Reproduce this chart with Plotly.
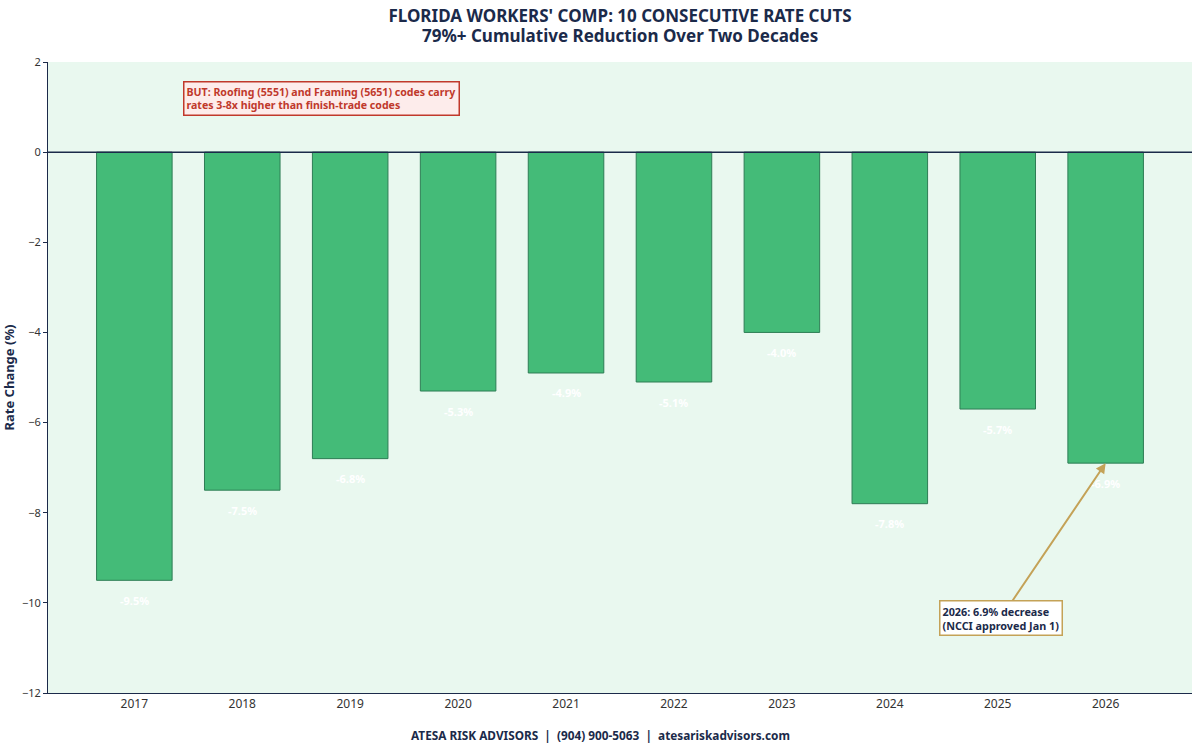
import plotly.graph_objects as go

years = [2017, 2018, 2019, 2020, 2021, 2022, 2023, 2024, 2025, 2026]
rate_change = [-9.5, -7.5, -6.8, -5.3, -4.9, -5.1, -4.0, -7.8, -5.7, -6.9]
labels = [f"{v:.1f}%" for v in rate_change]

navy = "#1b2a4a"
font_family = "Noto Sans, Open Sans, sans-serif"

fig = go.Figure()
fig.add_trace(go.Bar(
    x=years, y=rate_change, width=0.7,
    marker=dict(color="#44bb78", line=dict(color="#2e7d55", width=1)),
    hoverinfo="skip",
))

for yr, v, lab in zip(years, rate_change, labels):
    fig.add_annotation(
        x=yr, y=v, xref="x", yref="y", yshift=-20, showarrow=False,
        text=f"<b>{lab}</b>", font=dict(color="white", size=11, family=font_family),
    )

fig.add_hline(y=0, line=dict(color=navy, width=1.5))

fig.add_annotation(
    xref="paper", yref="y", x=0.118, y=1.57, xanchor="left", yanchor="top",
    text="<b>BUT: Roofing (5551) and Framing (5651) codes carry<br>rates 3-8x higher than finish-trade codes</b>",
    showarrow=False, align="left",
    font=dict(color="#c0392b", size=10.6, family=font_family),
    bgcolor="#fdeceb", bordercolor="#c0392b", borderwidth=1.5, borderpad=2,
)

fig.add_annotation(
    x=2026, y=-6.9, xref="x", yref="y",
    ax=2025.03, ay=-10.33, axref="x", ayref="y",
    text="<b>2026: 6.9% decrease<br>(NCCI approved Jan 1)</b>",
    showarrow=True, arrowhead=2, arrowsize=1, arrowwidth=2, arrowcolor="#c4a257",
    align="left",
    font=dict(color=navy, size=10.8, family=font_family),
    bgcolor="white", bordercolor="#c4a257", borderwidth=1.5, borderpad=2,
)

# second title line
fig.add_annotation(
    xref="paper", yref="paper", x=0.5, y=1 + (62 - 35) / 631, yanchor="middle",
    text="<b>79%+ Cumulative Reduction Over Two Decades</b>",
    showarrow=False, font=dict(color=navy, size=17, family=font_family),
)

fig.add_annotation(
    xref="paper", yref="paper", x=(600 - 48) / 1144, y=-0.0666, yanchor="middle",
    text="<b>ATESA RISK ADVISORS  |  (904) 900-5063  |  atesariskadvisors.com</b>",
    showarrow=False, font=dict(color=navy, size=11.8, family=font_family),
)

fig.update_layout(
    width=1200, height=751,
    margin=dict(l=48, r=8, t=62, b=58),
    paper_bgcolor="white", plot_bgcolor="#e9f8ef",
    font=dict(family=font_family, color="#333333", size=11),
    title=dict(
        text="<b>FLORIDA WORKERS' COMP: 10 CONSECUTIVE RATE CUTS</b>",
        xref="paper", x=0.5, xanchor="center", yref="container", y=1 - 16 / 751, yanchor="middle",
        font=dict(size=17, color=navy, family=font_family),
    ),
    showlegend=False,
)
fig.update_xaxes(
    range=[2016.2, 2026.8], tickmode="array", tickvals=years,
    ticktext=[str(y) for y in years],
    showgrid=False, zeroline=False, showline=True, linecolor=navy, linewidth=1,
    ticks="", tickfont=dict(size=12, color="#333333"), automargin=False,
)
fig.update_yaxes(
    range=[-12, 2], dtick=2, showgrid=False, zeroline=False,
    showline=True, linecolor=navy, linewidth=1, ticks="outside", ticklen=4, tickcolor=navy,
    title=dict(text="<b>Rate Change (%)</b>", font=dict(size=13, color=navy), standoff=8),
    tickfont=dict(size=11, color="#333333"), automargin=False,
)

fig.write_html("out.html")
